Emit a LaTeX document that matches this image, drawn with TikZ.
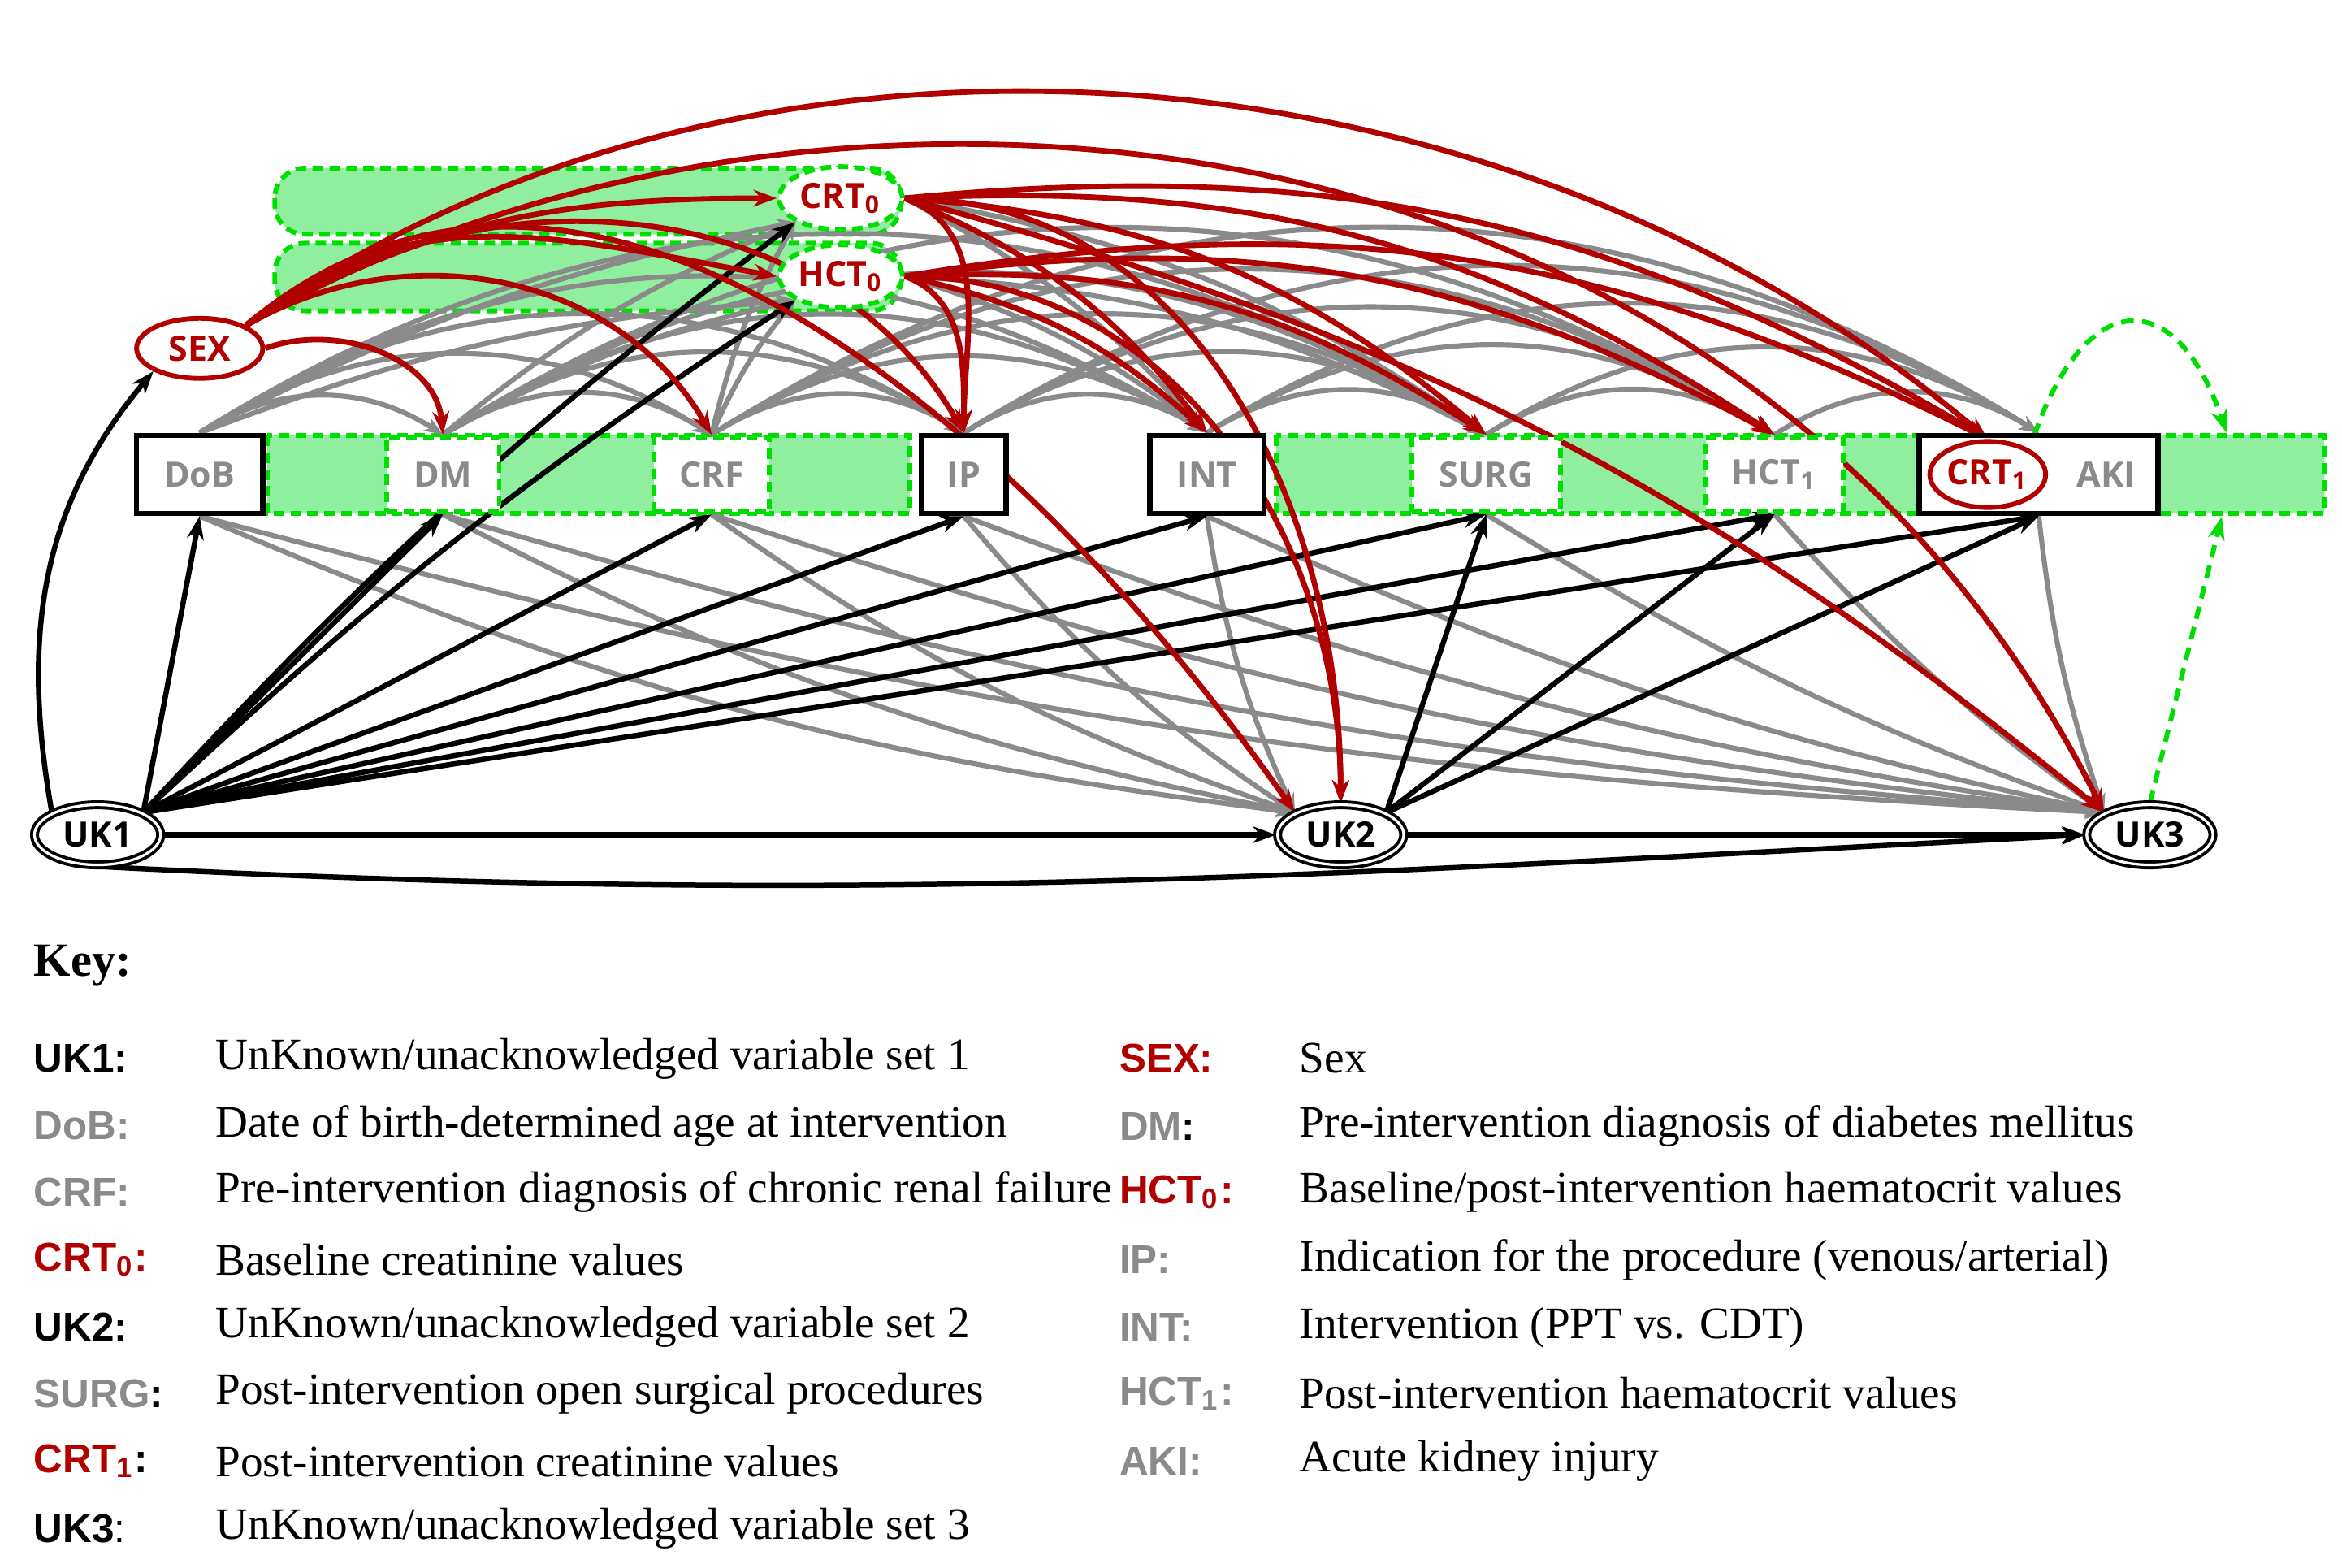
\documentclass[tikz,border=0pt]{standalone}
\usepackage{fontspec}
\setmainfont{Liberation Serif}
\newfontfamily\nsans{Open Sans}
\newfontfamily\ksans{Liberation Sans}
\usetikzlibrary{arrows.meta,shapes.geometric,backgrounds}
\pgfdeclarelayer{bands}\pgfdeclarelayer{edges}
\pgfsetlayers{bands,edges,main}
\definecolor{dred}{HTML}{B00000}
\definecolor{lgreen}{HTML}{90EE9F}
\definecolor{dgreen}{HTML}{00DD00}
\definecolor{ngray}{HTML}{8A8A8A}
\begin{document}
\begin{tikzpicture}[x=0.01cm,y=-0.01cm,
 lbl/.style={font=\nsans\bfseries\fontsize{6.6}{7.2}\selectfont},
 box/.style={lbl,draw=black,line width=1pt,fill=white,minimum height=0.52cm,inner sep=0pt,text=ngray},
 dbox/.style={lbl,draw=dgreen,dashed,dash pattern=on 2pt off 1.2pt,line width=0.9pt,fill=white,minimum height=0.5cm,inner sep=0pt,text=ngray},
 rell/.style={lbl,ellipse,draw=dred,line width=0.9pt,fill=white,text=dred,inner sep=0pt},
 gell/.style={lbl,ellipse,draw=dgreen,dashed,dash pattern=on 2pt off 1.2pt,line width=0.9pt,fill=white,text=dred,minimum width=0.82cm,minimum height=0.42cm,inner sep=0pt},
 uk/.style={lbl,ellipse,draw=black,double=white,double distance=0.5pt,line width=0.6pt,fill=white,text=black,minimum width=0.84cm,minimum height=0.4cm,inner sep=0pt},
 ge/.style={draw=ngray,line width=0.95pt,-{Stealth[length=3.6pt,width=2.8pt]}},
 re/.style={draw=dred,line width=1.05pt,-{Stealth[length=4.4pt,width=3.2pt]}},
 be/.style={draw=black,line width=1pt,-{Stealth[length=4.4pt,width=3.2pt]}},
 kl/.style={anchor=west,inner sep=0pt,font=\ksans\bfseries\fontsize{7.6}{8}\selectfont},
 kt/.style={anchor=west,inner sep=0pt,font=\fontsize{8.5}{9}\selectfont}]
\useasboundingbox (0,0) rectangle (1560,1044);
\begin{pgfonlayer}{bands}
\draw[dgreen,dashed,dash pattern=on 2pt off 1.2pt,line width=0.9pt,fill=lgreen,rounded corners=0.2cm] (183,112) rectangle (600,156);
\draw[dgreen,dashed,dash pattern=on 2pt off 1.2pt,line width=0.9pt,fill=lgreen,rounded corners=0.2cm] (183,162) rectangle (600,207);
\draw[dgreen,dashed,dash pattern=on 2pt off 1.2pt,line width=0.9pt,fill=lgreen] (178,290) rectangle (606,342);
\draw[dgreen,dashed,dash pattern=on 2pt off 1.2pt,line width=0.9pt,fill=lgreen] (850,290) rectangle (1548,342);
\end{pgfonlayer}
\node[rell,minimum width=0.84cm,minimum height=0.4cm] (sex) at (133,232) {SEX};
\node[gell] (crt0) at (560,132) {CRT\textsubscript{0}};
\node[gell] (hct0) at (560,184) {HCT\textsubscript{0}};
\node[box,minimum width=0.84cm] (dob) at (133,316) {DoB};
\node[dbox,minimum width=0.75cm] (dm) at (295,316) {DM};
\node[dbox,minimum width=0.77cm] (crf) at (474,316) {CRF};
\node[box,minimum width=0.56cm] (ip) at (642,316) {IP};
\node[box,minimum width=0.76cm] (int) at (804,316) {INT};
\node[dbox,minimum width=0.99cm] (surg) at (990,316) {SURG};
\node[dbox,minimum width=0.91cm] (hct1) at (1182,316) {HCT\textsubscript{1}};
\node[box,minimum width=1.59cm] (aki) at (1358,316) {};
\node[lbl,text=ngray] at (1403,316) {AKI};
\node[rell,minimum width=0.7cm,minimum height=0.44cm] (crt1) at (1324,316) {CRT\textsubscript{1}};
\node[uk] (uk1) at (65,556) {UK1};
\node[uk] (uk2) at (893,556) {UK2};
\node[uk] (uk3) at (1432,556) {UK3};
\coordinate (gA) at (1355,290);
\coordinate (gB) at (1483,288);
\coordinate (gC) at (1480,344);
\begin{pgfonlayer}{edges}
\foreach \a/\b in {dob/dm,dob/crf,dob/ip,dob/int,dob/surg,dm/crf,dm/ip,dm/int,dm/surg,dm/hct1,crf/ip,crf/int,crf/surg,crf/hct1,crf/aki,ip/int,ip/surg,ip/hct1,ip/aki,int/surg,int/hct1,int/aki,surg/hct1,surg/aki,hct1/aki}
  \draw[ge] (\a.north) to[bend left=32] (\b.north);
\foreach \a in {dob,dm,crf}{\draw[ge] (\a.north) to[bend left=8] (crt0.south west); \draw[ge] (\a.north) to[bend left=8] (hct0.south west);}
\foreach \a in {crt0,hct0}{\draw[ge] (\a.east) to[bend left=10] (int.north); \draw[ge] (\a.east) to[bend left=12] (surg.north);}
\foreach \a in {dob,dm,crf,ip,int}
  \draw[ge] (\a.south) to[bend right=8] (uk2.north west);
\foreach \a in {dob,dm,crf,ip,int,surg,hct1,aki}
  \draw[ge] (\a.south) to[bend right=6] (uk3.north west);
\draw[be] (uk1.north west) to[out=100,in=230] (sex.south west);
\foreach \b in {dob,dm,crf,ip,int,surg,hct1,aki}
  \draw[be] (uk1.north east) -- (\b.south);
\draw[be] (uk1.north east) to[bend left=5] (crt0.south west);
\draw[be] (uk1.north east) to[bend left=5] (hct0.south west);
\draw[be] (uk1) -- (uk2);
\draw[be] (uk1.south) to[out=-3,in=183] (uk3.west);
\foreach \b in {surg,hct1,aki} \draw[be] (uk2.north east) -- (\b.south);
\draw[be] (uk2) -- (uk3);
\draw[re] (sex.north east) to[out=30,in=180] (crt0.west);
\draw[re] (sex.north east) to[out=40,in=170] (hct0.west);
\draw[re] (sex.east) to[out=20,in=95] (dm.north);
\draw[re] (sex.north east) to[out=30,in=120] (crf.north);
\draw[re] (sex.north east) to[out=35,in=120] (ip.north);
\draw[re] (sex.north east) to[out=40,in=125] (uk2.north west);
\draw[re] (sex.north east) .. controls (500,-20) and (1000,20) .. (crt1.north);
\draw[re] (sex.north east) .. controls (520,10) and (1150,40) .. (uk3.north west);
\foreach \a in {crt0,hct0}{
  \draw[re] (\a.east) to[out=-20,in=90] (ip.north);
  \draw[re] (\a.east) to[bend left=15] (int.north);
  \draw[re] (\a.east) to[bend left=18] (surg.north);
  \draw[re] (\a.east) to[bend left=18] (hct1.north);
  \draw[re] (\a.east) to[bend left=18] (crt1.north);
  \draw[re] (\a.east) to[out=0,in=90] (uk2.north);}
\draw[re] (crt0.east) to[bend left=12] (uk3.north west);
\draw[dgreen,dashed,dash pattern=on 2.4pt off 1.6pt,line width=0.9pt,-{Stealth[length=4.4pt,width=3.2pt]}] (uk3.north) -- (gC);
\draw[dgreen,dashed,dash pattern=on 2.4pt off 1.6pt,line width=0.9pt,-{Stealth[length=4.4pt,width=3.2pt]}] (gA) .. controls (1390,190) and (1450,190) .. (gB);
\end{pgfonlayer}
\node[anchor=west,inner sep=0pt,font=\bfseries\fontsize{9}{10}\selectfont] (key) at (22,643) {Key:};
\node[kl] (k1) at (22,705) {UK1:};
\node[kt] (t1) at (143,705) {UnKnown/unacknowledged variable set 1};
\node[kl,text=ngray] (k2) at (22,750) {DoB:};
\node[kt] (t2) at (143,750) {Date of birth-determined age at intervention};
\node[kl,text=ngray] (k3) at (22,794) {CRF:};
\node[kt] (t3) at (143,794) {Pre-intervention diagnosis of chronic renal failure};
\node[kl,text=dred] (k4) at (22,839) {CRT\textsubscript{0}:};
\node[kt] (t4) at (143,839) {Baseline creatinine values};
\node[kl] (k5) at (22,884) {UK2:};
\node[kt] (t5) at (143,884) {UnKnown/unacknowledged variable set 2};
\node[kl,text=ngray] (k6) at (22,928) {SURG\textcolor{black}{:}};
\node[kt] (t6) at (143,928) {Post-intervention open surgical procedures};
\node[kl,text=dred] (k7) at (22,973) {CRT\textsubscript{1}\textcolor{black}{:}};
\node[kt] (t7) at (143,973) {Post-intervention creatinine values};
\node[kl] (k8) at (22,1018) {UK3\textmd{:}};
\node[kt] (t8) at (143,1018) {UnKnown/unacknowledged variable set 3};
\node[kl,text=dred] (r1) at (745,705) {SEX:};
\node[kt] (s1) at (865,705) {Sex};
\node[kl,text=ngray] (r2) at (745,750) {DM\textcolor{black}{:}};
\node[kt] (s2) at (865,750) {Pre-intervention diagnosis of diabetes mellitus};
\node[kl,text=dred] (r3) at (745,794) {HCT\textsubscript{0}:};
\node[kt] (s3) at (865,794) {Baseline/post-intervention haematocrit values};
\node[kl,text=ngray] (r4) at (745,839) {IP:};
\node[kt] (s4) at (865,839) {Indication for the procedure (venous/arterial)};
\node[kl,text=ngray] (r5) at (745,884) {INT:};
\node[kt] (s5) at (865,884) {Intervention (PPT vs. CDT)};
\node[kl,text=ngray] (r6) at (745,928) {HCT\textsubscript{1}:};
\node[kt] (s6) at (865,928) {Post-intervention haematocrit values};
\node[kl,text=ngray] (r7) at (745,973) {AKI:};
\node[kt] (s7) at (865,973) {Acute kidney injury};
\end{tikzpicture}
\end{document}
